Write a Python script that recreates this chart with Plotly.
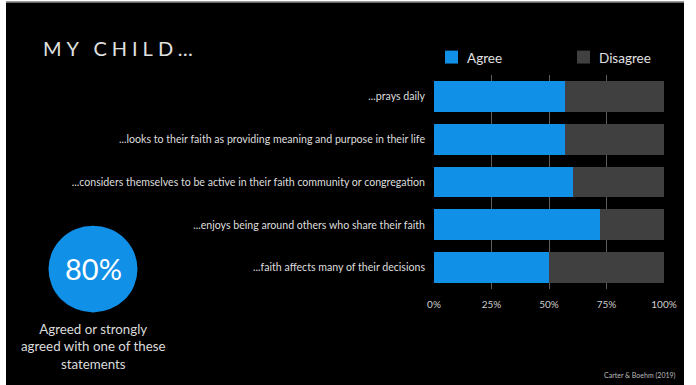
import plotly.graph_objects as go

categories = [
    "...prays daily",
    "...looks to their faith as providing meaning and purpose in their life",
    "...considers themselves to be active in their faith community or congregation",
    "...enjoys being around others who share their faith",
    "...faith affects many of their decisions",
]
agree = [0.57, 0.57, 0.605, 0.72, 0.50]
disagree = [round(1 - a, 3) for a in agree]
series_names = ["Agree", "Disagree"]
series_colors = ["#1190E8", "#404040"]
tick_vals = [0, 0.25, 0.5, 0.75, 1.0]
tick_text = ["0%", "25%", "50%", "75%", "100%"]
title_text = "MY CHILD…"
big_stat = "80%"
stat_caption = "Agreed or strongly<br>agreed with one of these<br>statements"
source_text = "Carter &amp; Boehm (2019)"

W, H = 696, 385
L, R = 434, 664
T, B = 74.5, 289.5


def px(x):
    return (x - L) / (R - L)


def py(y):
    return (B - y) / (B - T)


FONT = "Lato"

fig = go.Figure()
for name, vals, col in zip(series_names, [agree, disagree], series_colors):
    fig.add_trace(go.Bar(
        y=categories, x=vals, name=name, orientation="h",
        marker=dict(color=col, line=dict(width=0)),
        showlegend=False, hoverinfo="skip",
    ))

shapes = [
    # black slide background with thin white margins
    dict(type="rect", xref="paper", yref="paper", x0=px(6), x1=px(684), y0=py(1.5), y1=py(H + 5),
         fillcolor="#000000", line=dict(width=0), layer="below"),
    dict(type="line", xref="paper", yref="paper", x0=px(6), x1=px(684), y0=py(0.8), y1=py(0.8),
         line=dict(color="#9a9a9a", width=1.5), layer="below"),
    # big circle
    dict(type="circle", xref="paper", yref="paper", x0=px(48.5), x1=px(137.5), y0=py(226), y1=py(313),
         fillcolor=series_colors[0], line=dict(width=0)),
]

annotations = [
    dict(text=title_text, xref="paper", yref="paper", x=px(41), y=py(47), xanchor="left", yanchor="middle",
         align="left", showarrow=False, font=dict(family=FONT, size=20, color="#e0e0e0")),
    dict(text=big_stat, xref="paper", yref="paper", x=px(93), y=py(269), xanchor="center", yanchor="middle",
         showarrow=False, font=dict(family=FONT, size=29, color="#ffffff")),
    dict(text=stat_caption, xref="paper", yref="paper", x=px(93), y=py(347), xanchor="center", yanchor="middle",
         showarrow=False, font=dict(family=FONT, size=13.3, color="#dcdcdc")),
    dict(text=source_text, xref="paper", yref="paper", x=px(678), y=py(376), xanchor="right", yanchor="middle",
         showarrow=False, font=dict(family=FONT, size=7, color="#bbbbbb")),
]

# manual legend
leg_x = [445, 577]
for name, col, lx in zip(series_names, series_colors, leg_x):
    shapes.append(dict(type="rect", xref="paper", yref="paper", x0=px(lx), x1=px(lx + 13),
                       y0=py(63), y1=py(50), fillcolor=col, line=dict(width=0)))
    annotations.append(dict(text=name, xref="paper", yref="paper", x=px(lx + 20), y=py(57),
                            xanchor="left", yanchor="middle", showarrow=False,
                            font=dict(family=FONT, size=13.5, color="#e0e0e0")))

fig.update_layout(
    width=W, height=H,
    margin=dict(l=L, r=W - R, t=T, b=H - B),
    paper_bgcolor="#ffffff", plot_bgcolor="rgba(0,0,0,0)",
    barmode="stack", bargap=0.28,
    shapes=shapes, annotations=annotations,
    font=dict(family=FONT, color="#dddddd"),
    xaxis=dict(range=[0, 1.0], tickvals=tick_vals, ticktext=tick_text, showgrid=True,
               gridcolor="#5e5e5e", gridwidth=1, zeroline=False, showline=False,
               tickfont=dict(family=FONT, size=10, color="#cfcfcf"), ticks="", ticklabelstandoff=8,
               fixedrange=True),
    yaxis=dict(categoryorder="array", categoryarray=categories, autorange="reversed",
               showgrid=False, zeroline=False, showline=False, ticks="",
               tickfont=dict(family=FONT, size=10.6, color="#dedede"), ticklabelstandoff=8,
               fixedrange=True),
)

post = """
document.querySelectorAll('.annotation-text').forEach(function(t){
  if (t.textContent.indexOf('MY CHILD') === 0) { t.style.letterSpacing = '5px'; }
});
"""
fig.write_html("out.html", config={"displayModeBar": False}, post_script=post)
